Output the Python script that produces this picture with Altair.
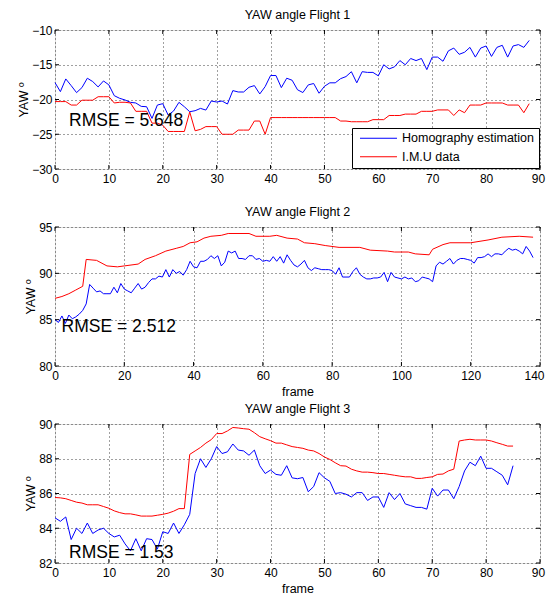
import altair as alt
import pandas as pd

FONT = "Liberation Sans"
W, H = 485, 139
BLUE, RED = "#0000ff", "#ff0000"
SERIES = ["Homography estimation", "I.M.U data"]

# ---------------- Flight 1 ----------------
blue1 = [-17.57, -18.87, -17.04, -18.0, -19.01, -18.29, -16.94, -17.42, -18.19, -17.33,
         -17.9, -19.45, -19.83, -20.07, -20.41, -20.5, -20.99, -21.04, -22.72, -20.8,
         -20.6, -22.24, -21.66, -20.41, -21.04, -21.76, -21.61, -21.28, -21.52, -20.22,
         -20.36, -20.22, -20.65, -18.72, -18.92, -18.92, -18.24, -18.0, -19.2, -18.14,
         -16.55, -16.55, -18.29, -16.94, -17.23, -18.6, -19.0, -17.9, -17.7, -19.1,
         -18.1, -17.6, -17.6, -17.0, -16.7, -16.0, -17.6, -16.0, -16.1, -16.1,
         -16.6, -15.0, -15.6, -15.3, -14.4, -15.0, -14.1, -14.4, -14.1, -15.7,
         -13.9, -13.9, -14.5, -13.0, -12.6, -13.5, -13.2, -12.5, -13.9, -12.6,
         -12.3, -13.8, -12.5, -12.2, -13.9, -12.3, -12.1, -12.5, -11.5]
red1 = [-20.3, -20.3, -20.3, -20.8, -20.8, -20.1, -20.1, -20.1, -19.6, -19.6,
        -19.6, -20.5, -20.4, -20.4, -20.5, -21.7, -21.7, -21.7, -23.4, -23.4,
        -23.7, -24.6, -24.6, -24.6, -24.6, -21.8, -24.5, -24.3, -23.9, -23.9,
        -23.9, -25.0, -25.0, -25.0, -24.4, -24.4, -24.4, -23.1, -23.1, -25.0,
        -22.6, -22.6, -22.6, -22.6, -22.6, -22.6, -22.6, -22.6, -22.6, -22.6,
        -22.6, -22.6, -22.6, -23.1, -23.1, -23.2, -23.2, -23.2, -23.2, -22.9,
        -22.9, -22.9, -22.3, -22.3, -22.3, -22.1, -22.1, -22.1, -21.7, -21.7,
        -21.7, -21.5, -21.5, -21.5, -22.3, -21.5, -21.9, -20.8, -20.8, -20.8,
        -20.5, -20.5, -20.5, -20.5, -20.8, -20.8, -20.8, -21.9, -20.6]
frames1 = list(range(len(blue1)))
rmse1 = {"frame": [2.6], "yaw": [-23.8], "label": ["RMSE = 5.648"]}

# ---------------- Flight 2 ----------------
blue2 = [85.0, 84.7, 85.4, 84.6, 85.5, 85.1, 85.3, 85.6, 86.0, 86.7,
         88.8, 88.4, 88.0, 88.1, 87.8, 87.8, 87.8, 88.5, 87.9, 88.9,
         88.3, 88.1, 87.9, 88.4, 88.9, 88.3, 88.5, 89.0, 89.4, 89.4,
         89.7, 89.6, 90.4, 89.6, 90.4, 90.0, 90.2, 89.8, 90.4, 91.3,
         90.7, 90.6, 91.3, 91.3, 91.5, 91.9, 91.6, 91.9, 90.8, 91.2,
         92.4, 92.2, 92.4, 91.6, 91.6, 91.5, 91.9, 91.9, 91.5, 91.6,
         91.3, 91.4, 91.3, 91.8, 91.3, 91.8, 91.1, 92.0, 91.4, 90.9,
         90.7, 91.0, 91.4, 90.6, 90.3, 90.6, 90.5, 90.4, 90.4, 90.4,
         90.3, 89.9, 90.6, 89.6, 89.6, 89.6, 90.2, 90.6, 89.9, 89.6,
         89.4, 89.4, 89.5, 89.5, 89.6, 90.1, 89.1, 90.1, 89.6, 89.5,
         89.4, 89.6, 89.4, 89.5, 89.1, 89.2, 89.6, 89.5, 89.4, 89.1,
         90.8, 91.2, 91.0, 91.3, 91.6, 91.0, 91.4, 91.6, 91.6, 91.5,
         91.4, 91.1, 91.7, 91.7, 91.8, 92.1, 91.8, 92.1, 92.1, 92.0,
         92.4, 92.7, 92.5, 92.6, 92.4, 92.1, 92.9, 92.4, 91.7]
frames2 = list(range(len(blue2)))
red2_frames = [0, 2, 4, 6, 8, 9, 12, 15, 18, 20, 24, 26, 29, 32, 35, 37, 39, 41, 43, 45,
               48, 50, 56, 58, 62, 64, 67, 70, 72, 75, 78, 82, 88, 91, 96, 98, 102, 104,
               108, 109, 112, 114, 120, 125, 129, 134, 138]
red2 = [87.3, 87.5, 87.8, 88.2, 88.6, 91.5, 91.4, 90.8, 90.7, 90.8, 91.0, 91.5, 91.9,
        92.4, 92.7, 92.9, 93.3, 93.4, 93.8, 94.0, 94.1, 94.3, 94.3, 94.0, 94.0, 94.1,
        93.8, 93.7, 93.3, 93.2, 93.0, 92.8, 92.8, 92.5, 92.4, 92.3, 92.3, 92.1, 92.0,
        92.6, 93.1, 93.3, 93.3, 93.6, 93.9, 94.0, 93.9]
rmse2 = {"frame": [1.9], "yaw": [83.7], "label": ["RMSE = 2.512"]}

# ---------------- Flight 3 ----------------
blue3 = [84.6, 84.4, 84.65, 83.35, 84.0, 83.7, 84.3, 83.7, 83.9, 84.0,
         83.7, 83.5, 83.6, 83.1, 82.7, 83.4, 82.7, 83.4, 83.35, 82.8,
         83.8, 83.7, 84.3, 83.7, 84.2, 84.8, 87.15, 88.0, 87.5, 88.0,
         88.7, 88.3, 88.4, 88.85, 88.5, 88.45, 88.2, 88.5, 87.6, 87.15,
         87.35, 87.1, 87.05, 87.6, 86.9, 86.85, 86.92, 86.1, 86.4, 87.2,
         86.9, 86.7, 86.0, 86.05, 85.96, 85.8, 86.05, 86.05, 85.6, 85.8,
         85.8, 85.2, 86.05, 85.65, 86.0, 85.4, 85.3, 85.2, 85.2, 85.1,
         86.3, 85.85, 86.2, 86.2, 85.7, 86.4, 87.3, 87.8, 87.6, 88.15,
         87.45, 87.45, 87.25, 87.05, 86.5, 87.6]
red3 = [85.77, 85.75, 85.7, 85.6, 85.5, 85.45, 85.35, 85.35, 85.35, 85.25,
        85.15, 85.0, 84.9, 84.83, 84.83, 84.77, 84.7, 84.7, 84.7, 84.75,
        84.8, 84.87, 84.98, 85.13, 85.13, 88.25, 88.45, 88.65, 88.9, 89.1,
        89.45, 89.45, 89.6, 89.8, 89.77, 89.73, 89.7, 89.5, 89.27, 89.15,
        89.04, 88.9, 88.9, 88.8, 88.7, 88.65, 88.6, 88.5, 88.45, 88.3,
        88.1, 87.96, 87.77, 87.6, 87.58, 87.4, 87.3, 87.23, 87.23, 87.2,
        87.15, 87.15, 87.1, 87.05, 87.0, 86.96, 86.96, 86.87, 86.87, 86.92,
        86.96, 87.1, 87.12, 87.3, 87.4, 89.02, 89.08, 89.12, 89.08, 89.08,
        89.08, 89.02, 88.92, 88.83, 88.73, 88.73]
frames3 = list(range(len(blue3)))
rmse3 = {"frame": [2.6], "yaw": [82.3], "label": ["RMSE = 1.53"]}

# axis ticks
xticks1 = [0, 10, 20, 30, 40, 50, 60, 70, 80, 90]
yticks1 = [-30, -25, -20, -15, -10]
xticks2 = [0, 20, 40, 60, 80, 100, 120, 140]
yticks2 = [80, 85, 90, 95]
xticks3 = [0, 10, 20, 30, 40, 50, 60, 70, 80, 90]
yticks3 = [82, 84, 86, 88, 90]


def axis(values, title, orient):
    kw = dict(values=values, grid=True, ticks=False, domain=False,
              labelFlush=False, labelOverlap=False, labelFont=FONT,
              labelFontSize=12, labelColor="black",
              gridColor="black", gridDash=[1, 3], gridOpacity=0.75, gridWidth=1,
              titleFont=FONT, titleFontSize=12.5, titleFontWeight="normal",
              titleColor="black")
    if orient == "x":
        last = values[-1]
        shift = -6 if last >= 100 else -2
        kw.update(labelPadding=4, titlePadding=4,
                  labelOffset={"condition": {"test": f"datum.value == {last}",
                                             "value": shift}, "value": 0})
    else:
        kw.update(labelPadding=3, titlePadding=1)
    kw["title"] = title if title else None
    return alt.Axis(**kw)


def panel(bf, bv, rf, rv, xdom, xt, ydom, yt, title, xtitle, rmse, show_legend):
    df = pd.concat([
        pd.DataFrame({"frame": bf, "yaw": bv, "series": SERIES[0]}),
        pd.DataFrame({"frame": rf, "yaw": rv, "series": SERIES[1]}),
    ], ignore_index=True)
    xs = alt.Scale(domain=xdom, nice=False, zero=False)
    ys = alt.Scale(domain=ydom, nice=False, zero=False)
    xa = axis(xt, xtitle, "x")
    ya = axis(yt, "YAW º", "y")
    if show_legend:
        leg = alt.Legend(title=None, orient="bottom-right", offset=1,
                         fillColor="white", strokeColor="black", padding=4,
                         symbolType="M-0.75,0H11.58", symbolSize=36,
                         symbolStrokeWidth=1, labelOffset=33.5, rowPadding=5.5,
                         labelFont=FONT, labelFontSize=12.5, labelColor="black")
    else:
        leg = None
    color = alt.Color("series:N", scale=alt.Scale(domain=SERIES, range=[BLUE, RED]),
                      legend=leg)
    lines = alt.Chart(df).mark_line(strokeWidth=1).encode(
        x=alt.X("frame:Q", scale=xs, axis=xa),
        y=alt.Y("yaw:Q", scale=ys, axis=ya),
        color=color,
        order=alt.Order("frame:Q"),
    )
    txt = alt.Chart(pd.DataFrame(rmse)).mark_text(
        align="left", baseline="alphabetic", font=FONT, fontSize=17.5, color="black"
    ).encode(x=alt.X("frame:Q", scale=xs, axis=xa),
             y=alt.Y("yaw:Q", scale=ys, axis=ya), text="label:N")

    xtdf = pd.DataFrame({"frame": xt})
    ytdf = pd.DataFrame({"yaw": yt})
    tk = 4
    xt_top = alt.Chart(xtdf).mark_rule(color="black", strokeWidth=1).encode(
        x=alt.X("frame:Q", scale=xs, axis=xa), y=alt.value(0), y2=alt.value(tk))
    xt_bot = alt.Chart(xtdf).mark_rule(color="black", strokeWidth=1).encode(
        x=alt.X("frame:Q", scale=xs, axis=xa), y=alt.value(H - tk), y2=alt.value(H))
    yt_left = alt.Chart(ytdf).mark_rule(color="black", strokeWidth=1).encode(
        y=alt.Y("yaw:Q", scale=ys, axis=ya), x=alt.value(0), x2=alt.value(tk))
    yt_right = alt.Chart(ytdf).mark_rule(color="black", strokeWidth=1).encode(
        y=alt.Y("yaw:Q", scale=ys, axis=ya), x=alt.value(W - tk), x2=alt.value(W))

    return alt.layer(lines, txt, xt_top, xt_bot, yt_left, yt_right).properties(
        width=W, height=H,
        title=alt.TitleParams(text=title, font=FONT, fontSize=12.5,
                              fontWeight="normal", color="black", anchor="middle",
                              offset=2.5),
    )


p1 = panel(frames1, blue1, frames1, red1, [0, 90], xticks1, [-30, -10], yticks1,
           "YAW angle Flight 1", None, rmse1, True)
p2 = panel(frames2, blue2, red2_frames, red2, [0, 140], xticks2, [80, 95], yticks2,
           "YAW angle Flight 2", "frame", rmse2, False)
p3 = panel(frames3, blue3, frames3, red3, [0, 90], xticks3, [82, 90], yticks3,
           "YAW angle Flight 3", "frame", rmse3, False)

chart = alt.vconcat(p1, p2, p3, spacing=58, bounds="flush").resolve_scale(
    color="independent").resolve_legend(color="independent").properties(
    padding={"left": 9, "top": 0, "right": 0, "bottom": 0}
).configure_view(stroke="black", strokeWidth=1).configure(background="white")

chart.save("out.html", embed_options={"renderer": "svg", "actions": False})
